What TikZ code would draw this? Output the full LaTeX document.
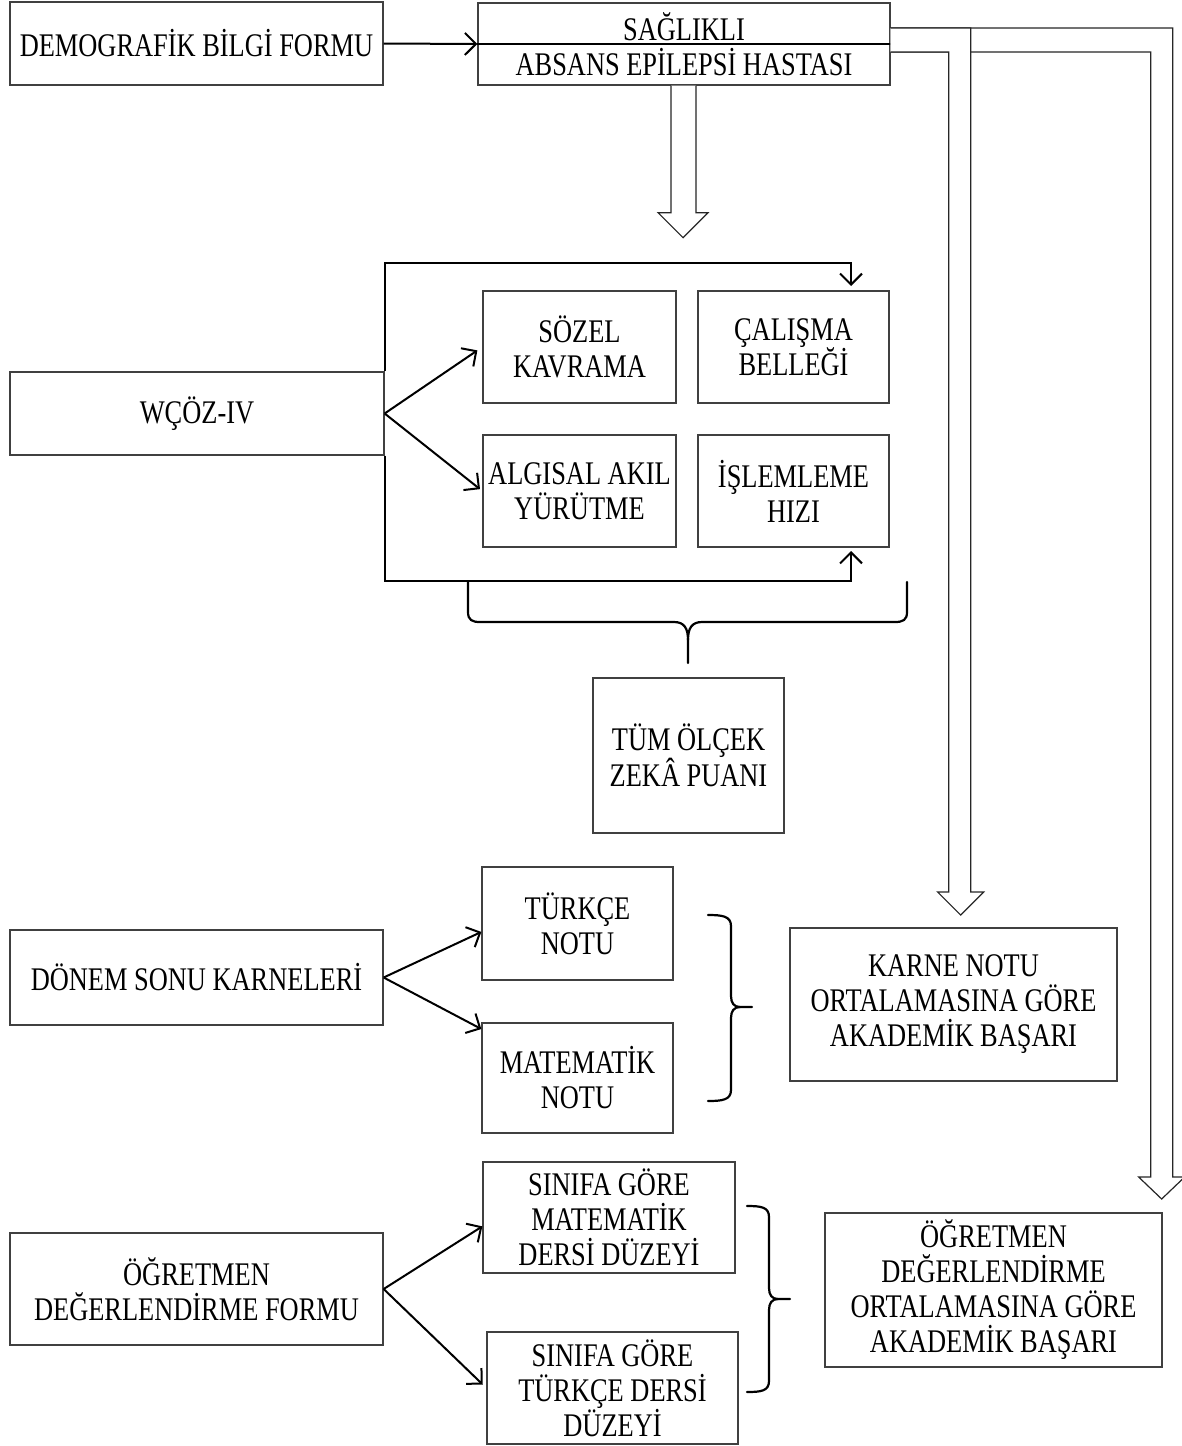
\documentclass[tikz,border=0pt]{standalone}
\usepackage{fontspec}
\setmainfont{Liberation Serif}[FakeStretch=0.8]
\usetikzlibrary{arrows.meta}

\tikzset{
  box/.style={draw=black!75, line width=1.3pt, align=center, inner sep=2pt,
    font=\fontsize{33}{35}\selectfont},
  arr/.style={line width=2pt, -{Straight Barb[length=11pt, width=22pt]}},
  blockarr/.style={draw=black!85, line width=1.2pt, fill=white, line join=miter},
  brace/.style={line width=2.2pt, line cap=round},
}

\begin{document}
\begin{tikzpicture}[x=1pt,y=-1pt]
\useasboundingbox (0,0) rectangle (1181,1446);

% top row
\node[box, minimum width=373pt, minimum height=83pt] (demo) at (196.5,43.5) {DEMOGRAFİK BİLGİ FORMU};
\node[box, minimum width=412pt, minimum height=82pt] (group) at (684,44) {SAĞLIKLI\\ABSANS EPİLEPSİ HASTASI};
\draw[line width=2pt] (group.west) -- (group.east);
\draw[arr] (demo.east) -- (group.west);

% WCOZ-IV and subtests
\node[box, minimum width=374pt, minimum height=83pt] (wcoz) at (197,413.5) {WÇÖZ-IV};
\node[box, minimum width=193pt, minimum height=112pt] (sozel) at (579.5,347) {SÖZEL\\KAVRAMA};
\node[box, minimum width=191pt, minimum height=112pt] (calisma) at (793.5,347) {ÇALIŞMA\\BELLEĞİ};
\node[box, minimum width=193pt, minimum height=112pt] (algisal) at (579.5,491) {ALGISAL AKIL\\YÜRÜTME};
\node[box, minimum width=191pt, minimum height=112pt] (islemleme) at (793.5,491) {İŞLEMLEME\\HIZI};
\node[box, minimum width=191pt, minimum height=155pt] (tum) at (688.5,755.5) {TÜM ÖLÇEK\\ZEKÂ PUANI};

\coordinate (calin) at (851,286);
\coordinate (islin) at (851,551);
\draw[arr] (wcoz.north east) -- ++(0,-108) -| (calin);
\draw[arr] (wcoz.south east) -- ++(0,125) -| (islin);
\draw[arr, shorten >=6pt] (wcoz.east) -- (sozel.west);
\draw[arr, shorten >=3pt] (wcoz.east) -- (algisal.west);

% brace under the subtests
\draw[brace] (468,582) -- (468,612) .. controls (468,620) and (472,622) .. (480,622) -- (674,622) .. controls (684,622) and (688,628) .. (688,640) -- (688,663);
\draw[brace] (907,582) -- (907,612) .. controls (907,620) and (903,622) .. (895,622) -- (702,622) .. controls (692,622) and (688,628) .. (688,640);

% report cards
\node[box, minimum width=373pt, minimum height=95pt] (donem) at (196.5,977.5) {DÖNEM SONU KARNELERİ};
\node[box, minimum width=191pt, minimum height=113pt] (turkce) at (577.5,923.5) {TÜRKÇE\\NOTU};
\node[box, minimum width=191pt, minimum height=110pt] (matematik) at (577.5,1078) {MATEMATİK\\NOTU};
\node[box, minimum width=327pt, minimum height=153pt] (karne) at (953.5,1004.5) {KARNE NOTU\\ORTALAMASINA GÖRE\\AKADEMİK BAŞARI};
\draw[arr] (donem.east) -- (turkce.185);
\draw[arr] (donem.east) -- (matematik.153);
\draw[brace] (708,915) .. controls (722,915) and (731,916) .. (731,926) -- (731,996) .. controls (731,1003) and (734,1007) .. (740,1007) -- (752,1007);
\draw[brace] (708,1101) .. controls (722,1101) and (731,1100) .. (731,1090) -- (731,1018) .. controls (731,1011) and (734,1007) .. (740,1007);

% teacher form
\node[box, minimum width=373pt, minimum height=112pt] (ogretmen) at (196.5,1289) {ÖĞRETMEN\\DEĞERLENDİRME FORMU};
\node[box, minimum width=252pt, minimum height=111pt] (sinifmat) at (609,1217.5) {SINIFA GÖRE\\MATEMATİK\\DERSİ DÜZEYİ};
\node[box, minimum width=251pt, minimum height=112pt] (sinifturk) at (612.5,1388) {SINIFA GÖRE\\TÜRKÇE DERSİ\\DÜZEYİ};
\node[box, minimum width=337pt, minimum height=154pt] (ogrbasari) at (993.5,1290) {ÖĞRETMEN\\DEĞERLENDİRME\\ORTALAMASINA GÖRE\\AKADEMİK BAŞARI};
\draw[arr] (ogretmen.east) -- (sinifmat.184);
\draw[arr, shorten >=5pt] (ogretmen.east) -- (sinifturk.west);
\draw[brace] (747,1206) .. controls (761,1206) and (769,1207) .. (769,1217) -- (769,1288) .. controls (769,1295) and (772,1299) .. (778,1299) -- (790,1299);
\draw[brace] (747,1392) .. controls (761,1392) and (769,1391) .. (769,1381) -- (769,1310) .. controls (769,1303) and (772,1299) .. (778,1299);

% block arrows from the groups
\draw[blockarr] ([yshift=16pt]group.east) -- ++(282,0) -- ++(0,1149) -- ++(12,0) -- ++(-23,22) -- ++(-23,-22) -- ++(12,0) -- ++(0,-1125) -- ++(-260,0);
\draw[blockarr] ([yshift=16pt]group.east) -- ++(80,0) -- ++(0,864) -- ++(13,0) -- ++(-23,23) -- ++(-23,-23) -- ++(11,0) -- ++(0,-840) -- ++(-58,0);
\draw[blockarr] ([xshift=-13pt]group.south) -- ++(0,127) -- ++(-13,0) -- ++(25,25) -- ++(25,-25) -- ++(-12,0) -- ++(0,-127);
\end{tikzpicture}
\end{document}
